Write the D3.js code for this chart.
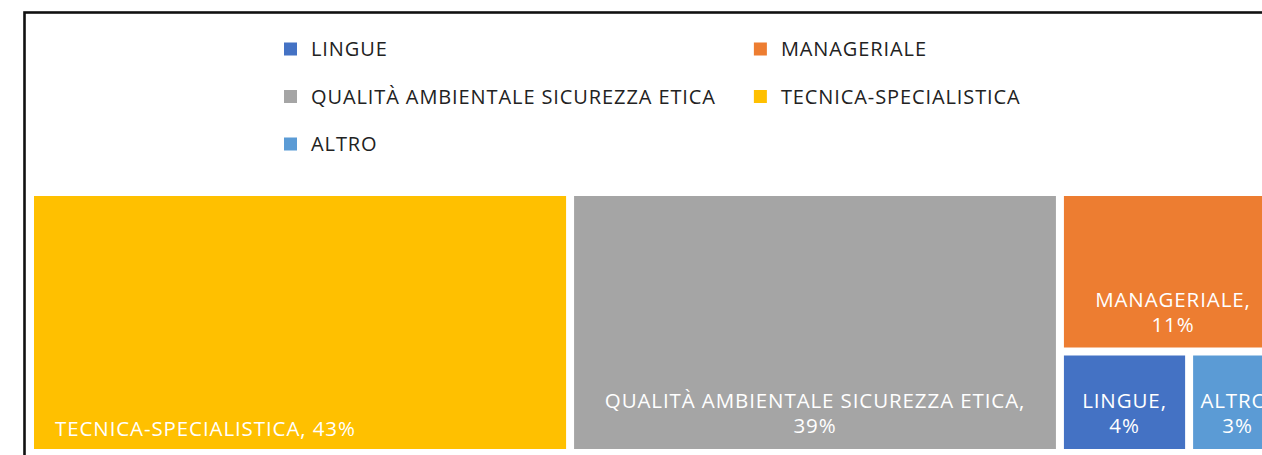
<!DOCTYPE html>
<html>
<head>
<meta charset="utf-8">
<script src="https://cdn.jsdelivr.net/npm/d3@7"></script>
<style>
  body { margin: 0; background: #fff; overflow: hidden; }
  svg { display: block; font-family: "Open Sans", sans-serif; }
</style>
</head>
<body>
<div id="chart"></div>
<script>
// categories and shares (percent)
var categories = ["LINGUE", "MANAGERIALE", "QUALITÀ AMBIENTALE SICUREZZA ETICA", "TECNICA-SPECIALISTICA", "ALTRO"];
var shares = [4, 11, 39, 43, 3];
var colors = ["#4472C4", "#ED7D31", "#A5A5A5", "#FFC000", "#5B9BD5"];

var width = 1262, height = 455;

// treemap area (the chart is wider than the window, it gets cut on the right)
var tm = {x: 34, y: 196, w: 1248, h: 253, gap: 8};

var svg = d3.select("#chart")
  .append("svg")
  .attr("width", width)
  .attr("height", height);

// chart border
svg.append("rect")
  .attr("x", 24.5)
  .attr("y", 12.5)
  .attr("width", 1400)
  .attr("height", 600)
  .attr("fill", "none")
  .attr("stroke", "#111")
  .attr("stroke-width", 2.6);

var color = d3.scaleOrdinal().domain(categories).range(colors);

// build the hierarchy
var data = {name: "root", children: categories.map(function(c, i) {
  return {name: c, value: shares[i]};
})};

var root = d3.hierarchy(data)
  .sum(function(d) { return d.value || 0; })
  .sort(function(a, b) { return b.value - a.value; });

d3.treemap()
  .tile(d3.treemapSquarify.ratio(1))
  .size([tm.w, tm.h])
  .paddingInner(tm.gap)(root);

var cells = svg.append("g")
  .attr("transform", "translate(" + tm.x + "," + tm.y + ")")
  .selectAll("g")
  .data(root.leaves())
  .enter()
  .append("g");

cells.append("rect")
  .attr("x", function(d) { return d.x0; })
  .attr("y", function(d) { return d.y0; })
  .attr("width", function(d) { return d.x1 - d.x0; })
  .attr("height", function(d) { return d.y1 - d.y0; })
  .attr("fill", function(d) { return color(d.data.name); });

// labels: one line at bottom-left if it fits, otherwise two centered lines
cells.each(function(d) {
  var g = d3.select(this);
  var full = d.data.name + ", " + d.data.value + "%";
  var t = g.append("text")
    .attr("fill", "#fff")
    .attr("font-size", "20.5px")
    .attr("letter-spacing", "0.9px")
    .attr("x", d.x0 + 21)
    .attr("y", d.y1 - 13)
    .text(full);
  var w = t.node().getComputedTextLength();
  if (w > (d.x1 - d.x0) - 40) {
    var cx = (d.x0 + d.x1) / 2;
    t.text(null)
      .attr("text-anchor", "middle")
      .attr("x", cx)
      .attr("y", d.y1 - 41);
    t.append("tspan").attr("x", cx).attr("dy", 0).text(d.data.name + ",");
    t.append("tspan").attr("x", cx).attr("dy", 25).text(d.data.value + "%");
  }
});

// legend, two columns
var legend = svg.append("g");
var legX = 284, legY = 49, rowH = 47.5;

var items = legend.selectAll("g")
  .data(categories)
  .enter()
  .append("g");

items.append("text")
  .attr("fill", "#222")
  .attr("font-size", "20px")
  .attr("letter-spacing", "0.9px")
  .attr("dy", "0.35em")
  .attr("x", 27)
  .text(function(d) { return d; });

var maxW = d3.max(items.nodes(), function(n) {
  return d3.select(n).select("text").node().getComputedTextLength();
});
var colW = 27 + maxW + 38;

items.attr("transform", function(d, i) {
  return "translate(" + (legX + (i % 2) * colW) + "," + (legY + Math.floor(i / 2) * rowH) + ")";
});

items.append("rect")
  .attr("x", 0)
  .attr("y", -6.5)
  .attr("width", 13)
  .attr("height", 13)
  .attr("fill", function(d) { return color(d); });
</script>
</body>
</html>
